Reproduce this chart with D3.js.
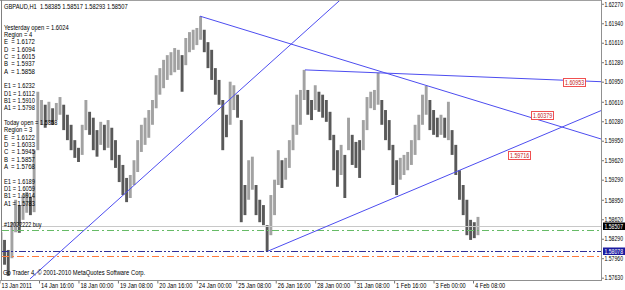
<!DOCTYPE html>
<html>
<head>
<meta charset="utf-8">
<script src="https://cdn.jsdelivr.net/npm/d3@7"></script>
<style>
  body { margin: 0; background: #fff; }
  svg { display: block; font-family: 'Liberation Sans', Arial, sans-serif; }
</style>
</head>
<body>
<div class="chart"></div>
<script>
// ---- data ----
const symbolTitle = 'GBPAUD,H1  1.58385 1.58517 1.58293 1.58507';

// one drawn bar per 3 hourly bars
const barStep = 3;
const highs = [
  1.5840, 1.5827, 1.5810, 1.5857, 1.5895, 1.5886, 1.5903, 1.5908, 1.5900, 1.5979,
  1.6078, 1.6064, 1.6056, 1.6061, 1.6050, 1.6059, 1.6069, 1.6056, 1.6039, 1.6022,
  1.5996, 1.5983, 1.6022, 1.6064, 1.6044, 1.6034, 1.6013, 1.6027, 1.6022, 1.6030,
  1.6017, 1.5996, 1.5971, 1.5954, 1.5932, 1.5937, 1.5962, 1.5996, 1.6022, 1.6034,
  1.6047, 1.6064, 1.6106, 1.6118, 1.6132, 1.6140, 1.6145, 1.6152, 1.6149, 1.6140,
  1.6169, 1.6179, 1.6183, 1.6186, 1.6206, 1.6183, 1.6162, 1.6149, 1.6118, 1.6098,
  1.6064, 1.6039, 1.6095, 1.6089, 1.6073, 1.6030, 1.5920, 1.5962, 1.5968, 1.5920,
  1.5895, 1.5886, 1.5852, 1.5903, 1.5929, 1.5979, 1.5962, 1.5966, 1.5996, 1.6022,
  1.6073, 1.6081, 1.6115, 1.6081, 1.6064, 1.6089, 1.6078, 1.6073, 1.6064, 1.6044,
  1.6005, 1.5979, 1.5988, 1.5971, 1.6034, 1.6005, 1.5993, 1.5996, 1.6030, 1.6069,
  1.6078, 1.6081, 1.6110, 1.6064, 1.6047, 1.6030, 1.5988, 1.5962, 1.5966, 1.5971,
  1.5976, 1.5996, 1.6022, 1.6039, 1.6073, 1.6088, 1.6064, 1.6047, 1.6034, 1.6039,
  1.6034, 1.6061, 1.6013, 1.5988, 1.5945, 1.5920, 1.5895, 1.5861, 1.5857, 1.5866
];
const lows = [
  1.5801, 1.5785, 1.5766, 1.5796, 1.5840, 1.5839, 1.5861, 1.5873, 1.5869, 1.5874,
  1.5979, 1.6022, 1.6017, 1.6027, 1.6022, 1.6030, 1.6039, 1.6013, 1.5996, 1.5979,
  1.5966, 1.5959, 1.5971, 1.6013, 1.6005, 1.5979, 1.5968, 1.5988, 1.5979, 1.5983,
  1.5962, 1.5949, 1.5925, 1.5903, 1.5891, 1.5898, 1.5920, 1.5942, 1.5976, 1.5988,
  1.6000, 1.6022, 1.6050, 1.6073, 1.6084, 1.6098, 1.6106, 1.6111, 1.6115, 1.6078,
  1.6123, 1.6145, 1.6149, 1.6157, 1.6166, 1.6145, 1.6118, 1.6098, 1.6073, 1.6056,
  1.5979, 1.6001, 1.6022, 1.6047, 1.6034, 1.5857, 1.5869, 1.5895, 1.5912, 1.5869,
  1.5857, 1.5852, 1.5808, 1.5835, 1.5869, 1.5920, 1.5915, 1.5929, 1.5949, 1.5979,
  1.6005, 1.6022, 1.6064, 1.6039, 1.6030, 1.6047, 1.6044, 1.6034, 1.6027, 1.5996,
  1.5945, 1.5917, 1.5937, 1.5898, 1.5979, 1.5954, 1.5949, 1.5932, 1.5979, 1.6013,
  1.6050, 1.6047, 1.6056, 1.6022, 1.5996, 1.5979, 1.5920, 1.5903, 1.5929, 1.5937,
  1.5945, 1.5954, 1.5971, 1.5996, 1.6022, 1.6039, 1.6013, 1.6005, 1.6001, 1.6005,
  1.6000, 1.5996, 1.5971, 1.5937, 1.5895, 1.5869, 1.5835, 1.5827, 1.5830, 1.5835
];

const dateLabels = [
  '13 Jan 2011', '14 Jan 16:00', '18 Jan 00:00', '19 Jan 08:00', '20 Jan 16:00',
  '24 Jan 00:00', '25 Jan 08:00', '26 Jan 16:00', '28 Jan 00:00', '31 Jan 08:00',
  '1 Feb 16:00', '3 Feb 00:00', '4 Feb 08:00'
];
const priceTicks = [
  1.6227, 1.6194, 1.6161, 1.6128, 1.6095, 1.6061, 1.6028, 1.5995,
  1.5962, 1.5929, 1.5895, 1.5862, 1.5829, 1.5796, 1.5763
];

// trend lines: [hour index, price] anchors, drawn as rays to the right
const trendStarts = [[24.7, 1.5761], [162.6, 1.6206], [247.7, 1.6115], [217.7, 1.5808]];
const trendEnds = [[240.4, 1.6166], [487.8, 1.5998], [487.8, 1.6095], [487.8, 1.6046]];

// price labels next to the trend lines
const tagTexts = ['1.60953', '1.60379', '1.59716'];
const tagPrices = [1.60953, 1.60379, 1.59716];
const tagHours = [457, 431, 412];

// horizontal levels: bid, order, blue level, orange level
const levelPrices = [1.58507, 1.5843, 1.58078, 1.5800];
const orderText = '#12022222 buy';
const footerText = 'Go Trader 4, \u00a9 2001-2010 MetaQuotes Software Corp.';

const infoLines = [
  'Yesterday open = 1.6024', 'Region = 4', 'E  = 1.6172', 'D  = 1.6094', 'C  = 1.6015',
  'B  = 1.5937', 'A  = 1.5858', '', 'E1 = 1.6232', 'D1 = 1.6112', 'B1 = 1.5910',
  'A1 = 1.5798', '', 'Today open = 1.5858', 'Region = 3', 'E  = 1.6122', 'D  = 1.6033',
  'C  = 1.5945', 'B  = 1.5857', 'A  = 1.5768', '', 'E1 = 1.6189', 'D1 = 1.6059',
  'B1 = 1.5914', 'A1 = 1.5783'
];

// ---- drawing ----
const width = 625, height = 290;
const plot = { left: 2, right: 601, top: 1, bottom: 280 };
const fontSize = 7;

const x = d3.scaleLinear().domain([32, 384]).range([39, 473]);
const y = d3.scaleLinear().domain([1.5763, 1.6095]).range([277.7, 81.7]);

// squeeze a text horizontally to a fixed pitch, like the terminal font of the screenshot
function pitch(sel, perChar) {
  sel.each(function () {
    const n = this.textContent.length;
    const len = this.getComputedTextLength();
    if (n > 0 && len > 0) {
      const sx = n * perChar / len;
      const x0 = +this.getAttribute('x') || 0;
      d3.select(this).attr('transform', `translate(${x0 * (1 - sx)}, 0) scale(${sx}, 1)`);
    }
  });
}

const svg = d3.select('.chart')
  .append('svg')
  .attr('width', width)
  .attr('height', height);

svg.append('defs').append('clipPath')
  .attr('id', 'plot-clip')
  .append('rect')
  .attr('x', plot.left)
  .attr('y', plot.top)
  .attr('width', plot.right - plot.left)
  .attr('height', plot.bottom - plot.top);

// frame
svg.append('line')
  .attr('x1', 0).attr('x2', plot.right)
  .attr('y1', 0.5).attr('y2', 0.5)
  .attr('stroke', '#a0a0a0');
svg.append('line')
  .attr('x1', 1.5).attr('x2', 1.5)
  .attr('y1', 0).attr('y2', plot.bottom)
  .attr('stroke', '#808080');

const graph = svg.append('g').attr('clip-path', 'url(#plot-clip)');

// bars
const bars = highs.map((h, i) => ({ hour: i * barStep + 1, high: h, low: lows[i] }));
graph.append('g')
  .selectAll('rect')
  .data(bars)
  .join('rect')
  .attr('x', d => x(d.hour) - 1.4)
  .attr('y', d => y(d.high))
  .attr('width', 2.9)
  .attr('height', d => y(d.low) - y(d.high))
  .attr('fill', (d, i) => i > 0 && d.high + d.low > bars[i - 1].high + bars[i - 1].low ? '#a2a2a2' : '#595959');

// horizontal levels
const levelColors = ['#c8c8c8', '#66bb66', '#30309a', '#ff7a3c'];
const levelDash = [null, '7,3,2,3', '7,2,2,2,2,2', '7,3,2,3'];
graph.append('g')
  .selectAll('line')
  .data(levelPrices)
  .join('line')
  .attr('x1', plot.left)
  .attr('x2', plot.right)
  .attr('y1', d => Math.round(y(d)) + 0.5)
  .attr('y2', d => Math.round(y(d)) + 0.5)
  .attr('stroke', (d, i) => levelColors[i])
  .attr('stroke-dasharray', (d, i) => levelDash[i]);

// trend lines
const hourMax = x.invert(plot.right);
graph.append('g')
  .selectAll('line')
  .data(trendStarts.map((s, i) => [s, trendEnds[i]]))
  .join('line')
  .attr('x1', d => x(d[0][0]))
  .attr('y1', d => y(d[0][1]))
  .attr('x2', x(hourMax))
  .attr('y2', d => {
    const slope = (d[1][1] - d[0][1]) / (d[1][0] - d[0][0]);
    return y(d[0][1] + slope * (hourMax - d[0][0]));
  })
  .attr('stroke', '#4d4df0')
  .attr('stroke-width', 1);

// tags on the trend lines
const tags = graph.append('g')
  .selectAll('g')
  .data(tagTexts)
  .join('g')
  .attr('transform', (d, i) => `translate(${Math.round(x(tagHours[i]))}, ${Math.round(y(tagPrices[i]))})`);
tags.append('rect')
  .attr('x', 0.5).attr('y', -3.5)
  .attr('width', 22).attr('height', 8)
  .attr('fill', '#fff')
  .attr('stroke', '#f05050');
tags.append('text')
  .attr('x', 2).attr('y', 0.5)
  .attr('dy', '0.35em')
  .attr('font-size', fontSize)
  .attr('fill', '#c02020')
  .text(d => d)
  .call(pitch, 2.75);

// texts over the plot
const texts = svg.append('g')
  .attr('font-size', fontSize)
  .attr('fill', '#000');
texts.append('text')
  .attr('x', 4).attr('y', 7)
  .attr('dy', '0.35em')
  .attr('xml:space', 'preserve')
  .text(symbolTitle)
  .call(pitch, 2.95);
texts.selectAll('.info')
  .data(infoLines)
  .join('text')
  .attr('class', 'info')
  .attr('x', 4)
  .attr('y', (d, i) => 27.3 + i * 7.33)
  .attr('dy', '0.35em')
  .attr('xml:space', 'preserve')
  .text(d => d)
  .call(pitch, 2.82);
texts.append('text')
  .attr('x', 4).attr('y', y(levelPrices[0]) - 1.5)
  .attr('dy', '0.35em')
  .text(orderText)
  .call(pitch, 2.9);
texts.append('text')
  .attr('x', 3).attr('y', 273)
  .attr('dy', '0.35em')
  .text(footerText)
  .call(pitch, 2.85);

// price axis
const yAxisGroup = svg.append('g')
  .attr('transform', `translate(${plot.right + 0.5}, 0)`);
yAxisGroup.call(d3.axisRight(y).tickValues(priceTicks).tickSize(2.5).tickPadding(0.5).tickFormat(d3.format('.5f')))
  .call(g => g.select('.domain').remove());
yAxisGroup.selectAll('text')
  .attr('font-size', fontSize)
  .attr('font-family', null)
  .attr('fill', '#000')
  .call(pitch, 2.65);
yAxisGroup.selectAll('line').attr('stroke', '#777');
svg.append('line')
  .attr('x1', plot.right + 0.5).attr('x2', plot.right + 0.5)
  .attr('y1', 0).attr('y2', plot.bottom + 1)
  .attr('stroke', '#909090');

// current price boxes on the axis
const axisBoxes = [[levelPrices[0], '#000'], [levelPrices[2], '#1a1aa0']];
const boxes = svg.append('g')
  .selectAll('g')
  .data(axisBoxes)
  .join('g')
  .attr('transform', d => `translate(${plot.right + 2}, ${Math.round(y(d[0]))})`);
boxes.append('rect')
  .attr('x', 0).attr('y', -3.5)
  .attr('width', 22).attr('height', 7.5)
  .attr('fill', d => d[1]);
boxes.append('text')
  .attr('x', 1.5).attr('y', 0.3)
  .attr('dy', '0.35em')
  .attr('font-size', 6.5)
  .attr('fill', '#fff')
  .text(d => d3.format('.5f')(d[0]))
  .call(pitch, 2.65);

// time axis
const xAxisGroup = svg.append('g')
  .attr('transform', `translate(0, ${plot.bottom + 0.5})`);
xAxisGroup.call(d3.axisBottom(x).tickValues(dateLabels.map((d, i) => i * 32)).tickSize(3).tickFormat((d, i) => dateLabels[i]))
  .call(g => g.select('.domain').remove());
xAxisGroup.selectAll('text')
  .attr('font-size', fontSize)
  .attr('font-family', null)
  .attr('fill', '#000')
  .attr('text-anchor', 'start')
  .attr('x', 1.5)
  .attr('dy', null)
  .attr('y', 8)
  .call(pitch, 2.75);
xAxisGroup.selectAll('line').attr('stroke', '#777');
svg.append('line')
  .attr('x1', 0).attr('x2', plot.right + 1)
  .attr('y1', plot.bottom + 0.5).attr('y2', plot.bottom + 0.5)
  .attr('stroke', '#909090');
</script>
</body>
</html>
